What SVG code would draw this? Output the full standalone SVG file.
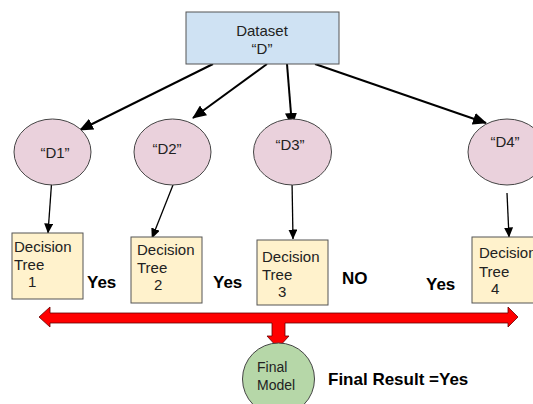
<svg xmlns="http://www.w3.org/2000/svg" width="533" height="404" viewBox="0 0 533 404">
<defs>
<marker id="ah" markerUnits="userSpaceOnUse" markerWidth="14" markerHeight="12" viewBox="0 0 14 12" refX="13" refY="6" orient="auto"><path d="M0,0 L14,6 L0,12 Z" fill="#000"/></marker>
<marker id="ah2" markerUnits="userSpaceOnUse" markerWidth="10" markerHeight="9" viewBox="0 0 10 9" refX="9.5" refY="4.5" orient="auto"><path d="M0,0 L10,4.5 L0,9 Z" fill="#000"/></marker>
</defs>
<style>
text{font-family:"Liberation Sans",Arial,sans-serif;fill:#222}
.n{font-size:15px}
.lbl{font-size:17px;font-weight:bold;fill:#000}
.ell{fill:#ead1dc;stroke:#444;stroke-width:1}
.box{fill:#fff2cc;stroke:#555;stroke-width:1}
.c1{stroke:#000;stroke-width:2;fill:none;marker-end:url(#ah)}
.c2{stroke:#000;stroke-width:1.3;fill:none;marker-end:url(#ah2)}
</style>
<rect width="533" height="404" fill="#fff"/>
<g id="connectors">
<line class="c1" x1="213" y1="64" x2="80" y2="130"/>
<line class="c1" x1="267" y1="64" x2="193" y2="118"/>
<line class="c1" x1="287" y1="64" x2="292" y2="126"/>
<line class="c1" x1="315" y1="64" x2="486" y2="123"/>
<line class="c2" x1="52" y1="177" x2="48" y2="233"/>
<line class="c2" x1="173" y1="185" x2="152" y2="238"/>
<line class="c2" x1="292" y1="180" x2="293" y2="239"/>
<line class="c2" x1="507" y1="193" x2="509" y2="237"/>
<path id="red-arrow" d="M39,317 L50,307 L50,313 L508,313 L508,307 L518,317 L508,327 L508,323 L285,323 L285,336 L289,336 L278,348 L267,336 L272,336 L272,323 L50,323 L50,327 Z" fill="#ff0000" stroke="#600" stroke-width="0.8" stroke-linejoin="miter"/>
</g>
<g id="dataset">
<rect x="186" y="12" width="153" height="52" fill="#cfe2f3" stroke="#555" stroke-width="1"/>
<text class="n" x="262" y="36" text-anchor="middle">Dataset</text>
<text class="n" x="262" y="54" text-anchor="middle">“D”</text>
</g>
<g id="d1"><ellipse class="ell" cx="52.5" cy="152" rx="38.5" ry="33"/><text class="n" x="55" y="158" text-anchor="middle">“D1”</text></g>
<g id="d2"><ellipse class="ell" cx="172.5" cy="152" rx="38.5" ry="33"/><text class="n" x="167" y="154" text-anchor="middle">“D2”</text></g>
<g id="d3"><ellipse class="ell" cx="292.5" cy="152" rx="39" ry="33"/><text class="n" x="290" y="150" text-anchor="middle">“D3”</text></g>
<g id="d4"><ellipse class="ell" cx="507" cy="152" rx="39" ry="33"/><text class="n" x="505" y="147" text-anchor="middle">“D4”</text></g>
<g id="tree1"><rect class="box" x="12" y="233" width="71" height="66"/>
<text class="n" x="14" y="252">Decision</text><text class="n" x="14" y="270">Tree</text><text class="n" x="28" y="287">1</text></g>
<g id="tree2"><rect class="box" x="131" y="237" width="71" height="66"/>
<text class="n" x="137" y="255">Decision</text><text class="n" x="137" y="273">Tree</text><text class="n" x="154" y="290">2</text></g>
<g id="tree3"><rect class="box" x="257" y="240" width="71" height="65"/>
<text class="n" x="262" y="262">Decision</text><text class="n" x="262" y="280">Tree</text><text class="n" x="278" y="297">3</text></g>
<g id="tree4"><rect class="box" x="472" y="237" width="71" height="66"/>
<text class="n" x="479" y="258">Decision</text><text class="n" x="479" y="277">Tree</text><text class="n" x="491" y="294">4</text></g>
<g id="votes">
<text class="lbl" x="87" y="288">Yes</text>
<text class="lbl" x="213" y="288">Yes</text>
<text class="lbl" x="342" y="284">NO</text>
<text class="lbl" x="426" y="290">Yes</text>
</g>
<g id="final-model"><circle cx="278.5" cy="379" r="36" fill="#b6d7a8" stroke="#444" stroke-width="1"/>
<text x="257" y="372" style="font-size:14px">Final</text><text x="257" y="390" style="font-size:14px">Model</text></g>
<text x="328" y="385" style="font-size:17px;font-weight:bold;fill:#000">Final Result =Yes</text>
</svg>
